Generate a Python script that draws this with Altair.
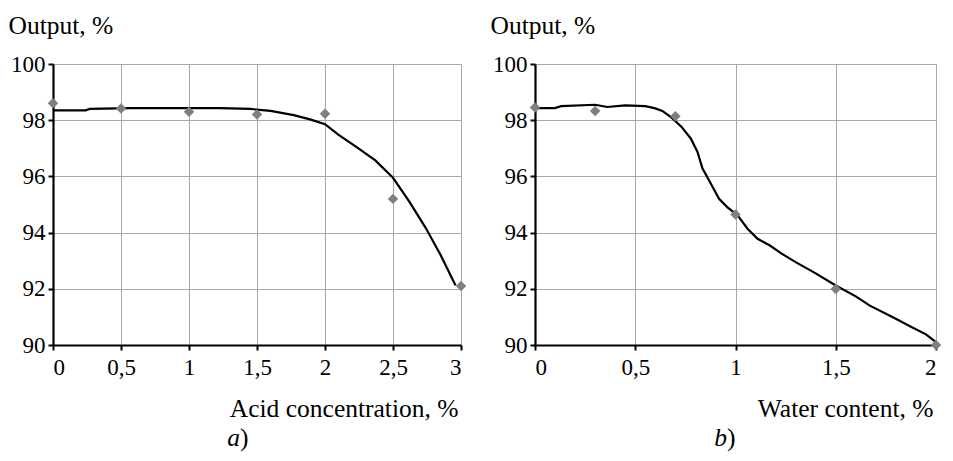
import altair as alt
import pandas as pd

# ---- data ----
acid_x = [0, 0.5, 1, 1.5, 2, 2.5, 3]
acid_y = [98.6, 98.42, 98.3, 98.2, 98.23, 95.2, 92.1]
acid_fit_x = [0, 0.24, 0.27, 0.57, 1.23, 1.45, 1.6, 1.77, 1.89, 2.0, 2.1, 2.23,
              2.37, 2.5, 2.62, 2.74, 2.85, 2.96]
acid_fit_y = [98.35, 98.35, 98.4, 98.43, 98.43, 98.4, 98.33, 98.18, 98.03, 97.86,
              97.48, 97.05, 96.57, 95.95, 95.1, 94.17, 93.2, 92.12]

water_x = [0, 0.3, 0.7, 1.0, 1.5, 2.0]
water_y = [98.45, 98.33, 98.14, 94.64, 91.99, 90.0]
water_fit_x = [0, 0.1, 0.13, 0.3, 0.36, 0.45, 0.55, 0.6, 0.635, 0.68, 0.73, 0.777,
               0.81, 0.835, 0.88, 0.918, 0.96, 1.01, 1.06, 1.11, 1.17, 1.23, 1.3,
               1.4, 1.5, 1.6, 1.67, 1.785, 1.88, 1.95, 2.0]
water_fit_y = [98.43, 98.43, 98.5, 98.55, 98.47, 98.53, 98.5, 98.42, 98.33, 98.1,
               97.77, 97.35, 96.88, 96.29, 95.7, 95.2, 94.9, 94.62, 94.14, 93.78,
               93.55, 93.25, 92.95, 92.55, 92.12, 91.73, 91.4, 90.99, 90.63, 90.38, 90.1]

y_ticks = [90, 92, 94, 96, 98, 100]
acid_ticks = [0, 0.5, 1, 1.5, 2, 2.5, 3]
water_ticks = [0, 0.5, 1, 1.5, 2]
captions = ["a", "b"]
x_titles = ["Acid concentration, %", "Water content, %"]
y_title = "Output, %"

FONT = "Liberation Serif"
LFS = 23
TFS = 25.5
H = 281
CAP_Y = 382


def panel(px, py, fx, fy, ticks, xtitle, cap, width, cap_x):
    pts = pd.DataFrame({"x": px, "y": py})
    fit = pd.DataFrame({"x": fx, "y": fy})
    xscale = alt.Scale(domain=[ticks[0], ticks[-1]], nice=False, zero=False)
    yscale = alt.Scale(domain=[90, 100], nice=False, zero=False)
    xaxis = alt.Axis(
        values=ticks,
        labelExpr="replace(toString(datum.value), '.', ',')",
        title=xtitle,
        titleAnchor="end",
        titleAlign="right",
        titleX=width - 3,
        titleY=71,
        titleBaseline="alphabetic",
    )
    yaxis = alt.Axis(
        values=y_ticks,
        title=y_title,
        titleAngle=0,
        titleAlign="left",
        titleBaseline="alphabetic",
        titleX=-45,
        titleY=-31,
    )
    line = alt.Chart(fit).mark_line(color="black", strokeWidth=2.2).encode(
        x=alt.X("x:Q", scale=xscale, axis=xaxis),
        y=alt.Y("y:Q", scale=yscale, axis=yaxis),
        order="x:Q",
    )
    dots = alt.Chart(pts).mark_point(
        shape="diamond", filled=True, color="#7f7f7f", size=110, opacity=1
    ).encode(x="x:Q", y="y:Q")
    capdf = pd.DataFrame({"t": [cap]})
    cap_a = alt.Chart(capdf).mark_text(
        font=FONT, fontSize=TFS, fontStyle="italic", align="right",
        baseline="alphabetic", color="black"
    ).encode(text="t:N", x=alt.value(cap_x), y=alt.value(CAP_Y))
    cap_b = alt.Chart(capdf).mark_text(
        font=FONT, fontSize=TFS, align="left", baseline="alphabetic", color="black"
    ).encode(text=alt.value(")"), x=alt.value(cap_x), y=alt.value(CAP_Y))
    return alt.layer(line, dots, cap_a, cap_b).properties(width=width, height=H)


left = panel(acid_x, acid_y, acid_fit_x, acid_fit_y, acid_ticks, x_titles[0],
             captions[0], 408, 187)
right = panel(water_x, water_y, water_fit_x, water_fit_y, water_ticks, x_titles[1],
              captions[1], 401, 192)

chart = alt.hconcat(left, right, spacing=74, bounds="flush").properties(
    padding={"left": 0, "top": 5, "right": 0, "bottom": 0}
).configure(font=FONT).configure_view(stroke=None).configure_axis(
    labelFont=FONT, labelFontSize=LFS, labelColor="black",
    titleFont=FONT, titleFontSize=TFS, titleColor="black", titleFontWeight="normal",
    domainColor="black", domainWidth=2.2,
    tickColor="black", tickWidth=2, tickSize=5,
    gridColor="#a8a8a8", gridWidth=1, gridOpacity=1,
    labelPadding=3,
).configure_axisX(labelPadding=6)

chart.save("out.html", embed_options={"renderer": "svg", "actions": False})
